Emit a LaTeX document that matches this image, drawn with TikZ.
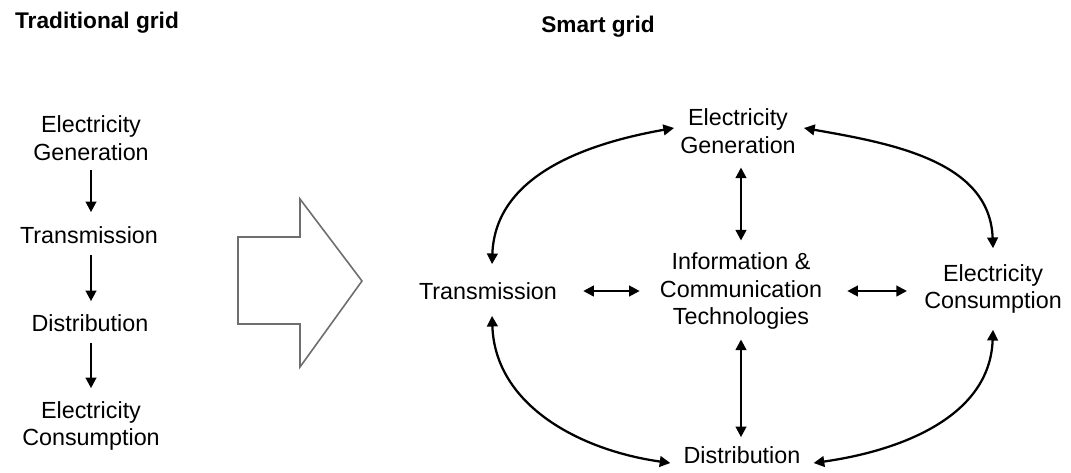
\documentclass[tikz,border=0pt]{standalone}
\usepackage{fontspec}
\setmainfont{Liberation Sans}
\usetikzlibrary{arrows.meta}
\definecolor{arrgray}{RGB}{110,110,110}
\begin{document}
\begin{tikzpicture}[x=0.75pt,y=0.75pt,
  lbl/.style={align=center,font=\fontsize{17.5}{20.5}\selectfont,inner sep=0pt},
  ttl/.style={font=\fontsize{17}{20}\selectfont\bfseries,inner sep=0pt},
  con/.style={line width=1.7pt,-{Triangle[length=8pt,width=8pt]}},
  bicon/.style={line width=1.7pt,{Triangle[length=8pt,width=8pt]}-{Triangle[length=8pt,width=8pt]}},
  bigarrow/.style={draw=arrgray,line width=1.2pt,line join=miter}]
\useasboundingbox (0,0) rectangle (1071,-472);
% titles
\node[ttl] (t1) at (97,-23) {Traditional grid};
\node[ttl] (t2) at (598,-27) {Smart grid};
% traditional column
\node[lbl] (lg) at (91,-138) {Electricity\\Generation};
\node[lbl] (lt) at (89,-235) {Transmission};
\node[lbl] (ld) at (90,-323) {Distribution};
\node[lbl] (lc) at (91,-426) {Electricity\\Consumption};
\draw[con] ([shift={(0,-9)}]lg.south) -- ([shift={(2,14)}]lt.north);
\draw[con] ([shift={(2,-11)}]lt.south) -- ([shift={(1,13)}]ld.north);
\draw[con] ([shift={(1,-11)}]ld.south) -- ([shift={(0,13)}]lc.north);
% big arrow
\draw[bigarrow] (238,-237) -- (300,-237) -- (300,-199) -- (362,-281) -- (300,-367) -- (300,-324) -- (238,-324) -- cycle;
% smart grid
\node[lbl] (sg) at (738,-131) {Electricity\\Generation};
\node[lbl] (ict) at (741,-291) {Information \&\\Communication\\Technologies};
\node[lbl] (st) at (488,-291) {Transmission};
\node[lbl] (sc) at (993,-289) {Electricity\\Consumption};
\node[lbl] (sd) at (742,-455) {Distribution};
\draw[bicon] ([shift={(3,-14)}]sg.south) -- ([shift={(0,12)}]ict.north);
\draw[bicon] ([shift={(0,-10)}]ict.south) -- ([shift={(-1,9)}]sd.north);
\draw[bicon] ([shift={(26,0)}]st.east) -- ([shift={(-20,0)}]ict.west);
\draw[bicon] ([shift={(25,0)}]ict.east) -- ([shift={(-17,-2)}]sc.west);
\draw[bicon] ([shift={(4,18)}]st.north) to[out=88,in=190] ([shift={(-6,3)}]sg.west);
\draw[bicon] ([shift={(8,3)}]sg.east) to[out=-10,in=92] ([shift={(0,16)}]sc.north);
\draw[bicon] ([shift={(4,-16)}]st.south) to[out=-88,in=172] ([shift={(-13,-8)}]sd.west);
\draw[bicon] ([shift={(13,-8)}]sd.east) to[out=8,in=-92] ([shift={(0,-16)}]sc.south);
\end{tikzpicture}
\end{document}
